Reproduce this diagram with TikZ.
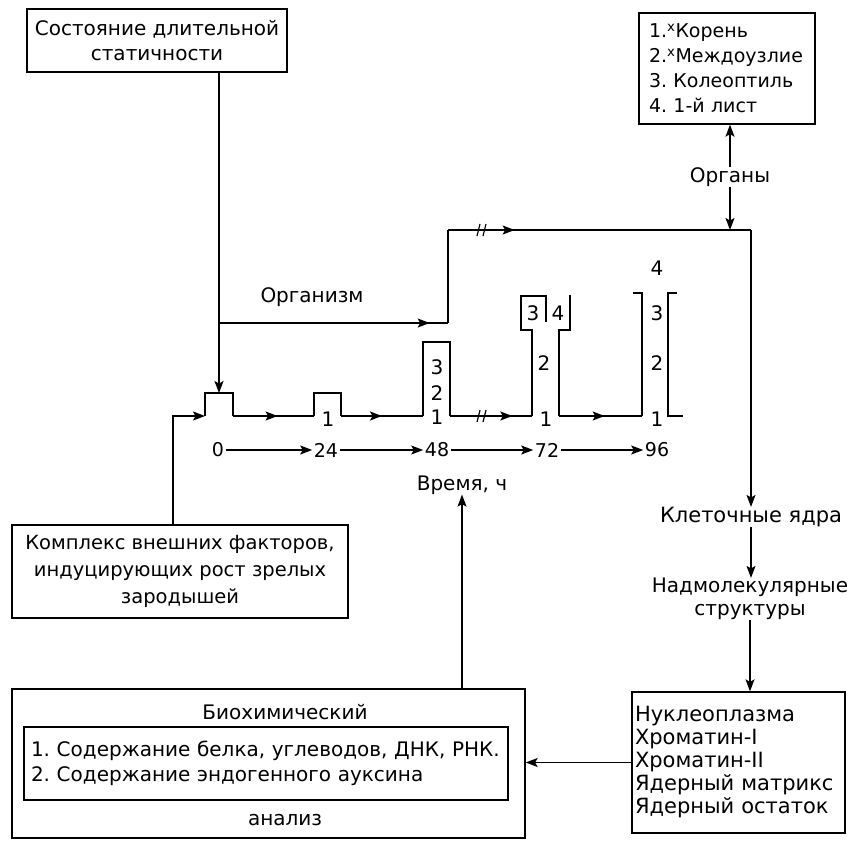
\documentclass[tikz,border=0pt]{standalone}
\usepackage{fontspec}
\setmainfont{DejaVu Sans}
\usetikzlibrary{arrows.meta, decorations.markings}
\frenchspacing

\tikzset{
    box/.style = {draw, line width=1.3pt, inner sep=0pt},
    lbl/.style = {inner sep=0pt, font=\fontsize{20}{25}\selectfont},
    num/.style = {inner sep=0pt, font=\fontsize{20}{22}\selectfont},
    tnum/.style = {inner sep=1.5pt, font=\fontsize{19}{20}\selectfont},
    tip/.style = {-{Stealth[length=12pt, width=9pt, inset=2.5pt]}},
    conn/.style = {line width=1.4pt, tip},
    wave/.style = {line width=1.4pt},
    midarrow/.style = {postaction={decorate}, decoration={markings,
        mark=at position #1 with {\arrow{Stealth[length=12pt, width=9pt, inset=2.5pt]}}}},
    brk/.pic = {\draw[line width=1.2pt] (-5,6) -- (-2,-6) (1,6) -- (4,-6);}
}

\begin{document}
\begin{tikzpicture}[x=1pt, y=-1pt]
    \useasboundingbox (0,0) rectangle (849,841);

    \node[box, lbl, minimum width=260, minimum height=63, align=center] (stat) at (157,40.5)
        {Состояние длительной\\статичности};
    \node[box, lbl, font=\fontsize{19}{25}\selectfont, minimum width=176, minimum height=111,
        text width=156, align=left] (organs) at (727,68.5)
        {1.\textsuperscript{x}Корень\\2.\textsuperscript{x}Междоузлие\\3. Колеоптиль\\4. 1-й лист};
    \node[lbl] (organy) at (730,177) {Органы};
    \node[lbl] (organism) at (312,297) {Организм};

    \coordinate (top) at (751,230);
    \coordinate (turn) at (448,230);
    \coordinate (br) at (219,323);
    \coordinate (up) at (448,323);
    \coordinate (sqtop) at (219,393);
    \coordinate (inl) at (173,416);
    \coordinate (sql) at (205,416);

    \draw[conn] (organy) -- (organs.south -| organy);
    \draw[conn] (organy) -- (organy |- top);
    \draw[conn] (stat.south -| sqtop) -- (sqtop);
    \draw[wave, midarrow=0.92] (br) -- (up);
    \draw[wave] (up) -- (turn);
    \draw[wave, midarrow=0.22] (turn) -- (top);
    \pic at (482,230) {brk};

    \node[lbl, font=\fontsize{21}{25}\selectfont] (cells) at (751,517) {Клеточные ядра};
    \node[lbl, font=\fontsize{20}{23}\selectfont, align=center] (supra) at (750,599)
        {Надмолекулярные\\структуры};
    \node[box, lbl, font=\fontsize{21}{23}\selectfont, minimum width=213, minimum height=141,
        text width=207, align=left] (nucl) at (738.5,762.5)
        {Нуклеоплазма\\Хроматин-I\\Хроматин-II\\Ядерный матрикс\\Ядерный остаток};
    \draw[conn] (top) -- (top |- cells.north);
    \draw[conn] (cells) -- (cells |- supra.north);
    \draw[conn] (supra) -- (supra |- nucl.north);

    \node[box, minimum width=513, minimum height=149] (bio) at (268.5,763.5) {};
    \node[lbl] (biot) at (285,712) {Биохимический};
    \node[box, lbl, minimum width=484, minimum height=73, text width=470, align=left] (biol) at (266,763.5)
        {1. Содержание белка, углеводов, ДНК, РНК.\\2. Содержание эндогенного ауксина};
    \node[lbl] (biob) at (285,820) {анализ};
    \draw[conn] (nucl.west) -- (bio.east |- nucl.west);

    \node[lbl] (time) at (462,485) {Время, ч};
    \draw[conn] (bio.north -| time) -- (time);

    \node[box, lbl, font=\fontsize{19.5}{27}\selectfont, minimum width=336, minimum height=93,
        align=center] (kompl) at (180,571.5)
        {Комплекс внешних факторов,\\индуцирующих рост зрелых\\зародышей};
    \draw[conn] (kompl.north -| inl) -- (inl) -- (sql);

    \foreach \t/\x in {0/218, 24/326, 48/437, 72/547, 96/657}
        \node[tnum] (t\t) at (\x,450) {\t};
    \foreach \a/\b in {0/24, 24/48, 48/72, 72/96}
        \draw[conn] (t\a) -- (t\b);

    \draw[wave] (205,416) -- (205,393) -- (233,393) -- (233,416);
    \draw[wave, midarrow=0.55] (233,416) -- (314,416);
    \draw[wave] (314,416) -- (314,393) -- (341,393) -- (341,416);
    \draw[wave, midarrow=0.5] (341,416) -- (423,416);
    \draw[wave] (423,416) -- (423,342) -- (450,342) -- (450,416);
    \draw[wave, midarrow=0.76] (450,416) -- (532,416);
    \pic at (482,416) {brk};
    \draw[wave] (532,416) -- (532,330) -- (521,330) -- (521,296) -- (546,296) -- (546,322);
    \draw[wave] (570,295) -- (570,330) -- (559,330) -- (559,416);
    \draw[wave, midarrow=0.55] (559,416) -- (642,416);
    \draw[wave] (642,416) -- (642,293) -- (633,293);
    \draw[wave] (677,293) -- (668,293) -- (668,416) -- (683,416);

    \node[num] (c24) at (328,419) {1};
    \foreach \n/\y in {3/367, 2/393, 1/417}
        \node[num] (ca\n) at (437,\y) {\n};
    \node[num] (cb3) at (533,313) {3};
    \node[num] (cb4) at (558,313) {4};
    \node[num] (cb2) at (544,363) {2};
    \node[num] (cb1) at (546,419) {1};
    \foreach \n/\y in {4/268, 3/313, 2/363, 1/419}
        \node[num] (cc\n) at (657,\y) {\n};
\end{tikzpicture}
\end{document}
